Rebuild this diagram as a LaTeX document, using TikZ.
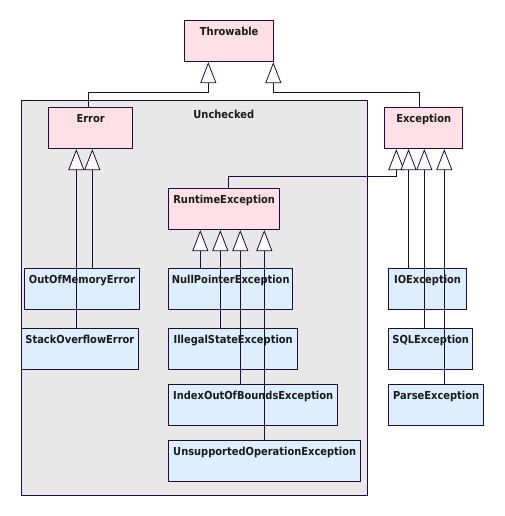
\documentclass[tikz,border=0pt]{standalone}
\usepackage{fontspec}
\setmainfont{DejaVu Sans}[BoldFont={DejaVu Sans Bold},BoldFeatures={FakeStretch=0.9}]
\usetikzlibrary{arrows.meta}
\definecolor{linec}{HTML}{200A40}
\definecolor{pinkc}{HTML}{FFE0E6}
\definecolor{bluec}{HTML}{DDEEFF}
\definecolor{grayc}{HTML}{E8E8E8}
\definecolor{textc}{HTML}{1A1A1A}
\tikzset{
  cls/.style={draw=linec, line width=0.8pt, inner sep=0pt, anchor=north west,
    text height=14.5pt, text depth=26.5pt, minimum height=41pt,
    font=\fontsize{11}{13}\selectfont\bfseries, text=textc},
  abs/.style={cls, fill=pinkc},
  conc/.style={cls, fill=bluec},
  pkg/.style={draw=linec, line width=0.8pt, fill=grayc},
  inh/.style={draw=linec, line width=0.8pt,
    -{Triangle[open, width=16pt, length=21pt, fill=white]}},
}
\begin{document}
\begin{tikzpicture}[x=1pt, y=-1pt]
\useasboundingbox (0,0) rectangle (504,516);
% package
\node[pkg, anchor=north west, minimum width=346pt, minimum height=395.3pt, inner sep=0pt] (unch) at (20.7,100) {};
\node[font=\fontsize{11}{13}\selectfont\bfseries, text=textc, anchor=base] (unchlbl) at (223.8,118.5) {Unchecked};
% classes
\node[abs, minimum width=89pt] (thr) at (184.3,20.3) {Throwable};
\node[abs, minimum width=84pt] (err) at (48.3,107.3) {Error};
\node[abs, minimum width=78pt] (exc) at (384.3,107.3) {Exception};
\node[abs, minimum width=111pt] (rte) at (168.3,188.3) {RuntimeException};
\node[conc, minimum width=115.3pt] (oom) at (24,268.3) {OutOfMemoryError};
\node[conc, minimum width=117.6pt] (soe) at (20.7,328.3) {StackOverflowError};
\node[conc, minimum width=124pt] (npe) at (168.3,268.3) {NullPointerException};
\node[conc, minimum width=129pt] (ise) at (168.3,328.3) {IllegalStateException};
\node[conc, minimum width=169pt] (ioobe) at (168.3,384.3) {IndexOutOfBoundsException};
\node[conc, minimum width=192pt] (uoe) at (168.3,440.3) {UnsupportedOperationException};
\node[conc, minimum width=77.7pt] (ioe) at (388.3,268.3) {IOException};
\node[conc, minimum width=84pt] (sqle) at (388.3,328.3) {SQLException};
\node[conc, minimum width=95pt] (pe) at (388.3,384.3) {ParseException};
% inheritance
\draw[inh] (err.north -| 88.3,0) -- (88.3,92.3) -- (208.3,92.3) -- (thr.south -| 208.3,0);
\draw[inh] (exc.north -| 419.3,0) -- (419.3,92.3) -- (273.3,92.3) -- (thr.south -| 273.3,0);
\draw[inh] (soe.north -| 76.3,0) -- (err.south -| 76.3,0);
\draw[inh] (oom.north -| 92.3,0) -- (err.south -| 92.3,0);
\draw[inh] (rte.north -| 228.3,0) -- (228.3,176.7) -- (396.3,176.7) -- (exc.south -| 396.3,0);
\draw[inh] (ioe.north -| 408.5,0) -- (exc.south -| 408.5,0);
\draw[inh] (sqle.north -| 424.3,0) -- (exc.south -| 424.3,0);
\draw[inh] (pe.north -| 444.3,0) -- (exc.south -| 444.3,0);
\draw[inh] (npe.north -| 200.3,0) -- (rte.south -| 200.3,0);
\draw[inh] (ise.north -| 220.3,0) -- (rte.south -| 220.3,0);
\draw[inh] (ioobe.north -| 240.3,0) -- (rte.south -| 240.3,0);
\draw[inh] (uoe.north -| 264.3,0) -- (rte.south -| 264.3,0);
\end{tikzpicture}
\end{document}
